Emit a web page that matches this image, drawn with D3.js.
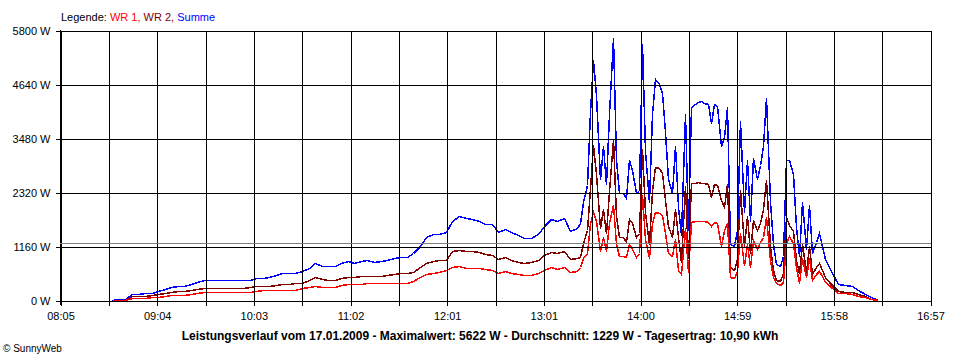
<!DOCTYPE html>
<html><head><meta charset="utf-8">
<script src="https://cdn.jsdelivr.net/npm/d3@7"></script>
<style>body{margin:0;background:#fff}svg{display:block}</style>
</head><body>
<svg id="chart" width="960" height="360"></svg>
<script>
// ---------- DATA ----------
const times = [
 "08:37","08:41","08:45","08:49","08:53","08:57",
 "09:01","09:05","09:09","09:13","09:17","09:21","09:25","09:29","09:33","09:37","09:41","09:45","09:49","09:53","09:57",
 "10:01","10:05","10:09","10:13","10:17","10:21","10:25","10:29","10:33","10:37","10:41","10:45","10:49","10:53","10:57",
 "11:01","11:05","11:09","11:13","11:17","11:21","11:25","11:29","11:33","11:37","11:41","11:45","11:49","11:53","11:57",
 "12:01","12:05","12:09","12:13","12:17","12:21","12:25","12:29","12:33","12:37","12:41","12:45","12:49","12:53","12:57",
 "13:01","13:05","13:09","13:13","13:17","13:21",
 "13:23","13:25","13:27","13:29","13:31","13:33","13:35","13:37","13:39","13:41","13:43","13:45","13:47","13:49","13:51","13:53","13:55","13:57","13:59",
 "14:01","14:03","14:05","14:07","14:09","14:11","14:13","14:15","14:17","14:19","14:21","14:23","14:25","14:27","14:29",
 "14:31","14:33","14:35","14:37","14:39","14:41","14:43","14:45","14:47","14:49","14:51","14:53","14:55","14:57","14:59",
 "15:01","15:03","15:05","15:07","15:09","15:11","15:13","15:15","15:17","15:19","15:21","15:23","15:25","15:27","15:29",
 "15:31","15:33","15:35","15:37","15:39","15:41","15:43","15:45","15:47","15:49","15:51","15:53","15:55","15:57",
 "16:01","16:05","16:09","16:13","16:17","16:21","16:25"
];
const summe = [
 0,15,15,128,130,140,
 160,190,240,275,295,310,345,380,420,425,420,428,430,425,435,
 430,465,475,485,540,585,570,590,620,680,800,720,740,740,800,
 845,800,830,865,810,830,860,905,915,925,1000,1160,1360,1418,1425,
 1460,1690,1800,1760,1733,1700,1640,1626,1460,1520,1460,1390,1340,1340,1420,
 1600,1750,1690,1760,1490,1540,
 1650,2100,2470,4045,5155,4400,2600,3300,2500,4000,5622,3000,2300,2300,2200,3000,2800,2290,2350,
 5500,3200,2100,4000,4750,4650,4450,3600,2600,2300,3300,2000,1400,4000,1500,
 4150,4200,4260,4280,4230,4200,3800,4200,4170,3300,3500,4150,1200,1150,1500,
 3850,1900,3000,1700,3050,2600,2900,3300,4340,2100,1200,770,730,950,3000,
 3000,2700,1575,950,2100,1100,2050,1000,1250,1430,1150,880,716,570,
 340,320,300,215,130,60,0
];
const wr2 = [
 0,0,0,86,88,92,
 100,120,160,178,190,200,215,230,262,265,265,265,268,265,268,
 270,300,300,305,330,340,345,360,375,425,487,445,440,440,480,
 500,490,505,515,510,515,530,560,573,573,609,716,790,840,850,
 870,1050,1080,1055,1045,1024,990,960,880,930,860,820,802,810,860,
 960,1040,1010,1060,880,900,
 930,1217,1500,2400,3330,2700,1550,1950,1450,2350,3450,1800,1350,1350,1250,1750,1650,1360,1450,
 3250,1900,1200,2350,2864,2830,2720,2150,1600,1350,1950,1350,820,2450,900,
 2506,2520,2530,2520,2510,2500,2220,2500,2480,2150,2000,2500,700,644,880,
 2363,1150,1800,1000,1718,1500,1650,1950,2578,1160,644,430,410,573,1780,
 1620,1480,860,573,1200,600,1150,560,700,800,640,500,394,320,
 195,175,170,130,85,30,0
];
const wr1 = [
 0,0,0,42,45,50,
 55,70,90,100,108,112,135,155,168,172,172,172,172,172,175,
 178,200,205,210,215,215,215,218,250,270,308,290,286,290,320,
 337,335,350,358,355,358,358,360,365,375,410,501,550,580,600,
 644,700,725,690,680,680,665,650,590,623,590,560,537,537,570,
 640,700,670,710,595,620,
 716,900,1000,1650,1900,1700,1050,1350,1050,1650,2050,1200,950,950,930,1200,1100,930,1000,
 2250,1300,900,1650,1897,1870,1820,1450,1000,950,1300,650,560,1550,600,
 1682,1690,1700,1700,1690,1680,1600,1670,1660,1150,1500,1650,500,465,620,
 1432,750,1200,700,1289,1100,1250,1350,1790,860,501,358,330,394,1220,
 1380,1220,716,358,900,500,900,440,550,630,510,380,322,250,
 150,140,130,95,60,20,0
];
const yTicks = [0, 1160, 2320, 3480, 4640, 5800];
const xStart = "08:05", xEnd = "16:57";
const xTickLabels = ["08:05","09:04","10:03","11:02","12:01","13:01","14:00","14:59","15:58","16:57"];
const average = 1229;
const legendTitle = "Legende: ";
const seriesNames = ["WR 1", "WR 2", "Summe"];
const seriesColors = ["#ff0000", "#800000", "#0000ff"];
const caption = "Leistungsverlauf vom 17.01.2009 - Maximalwert: 5622 W - Durchschnitt: 1229 W - Tagesertrag: 10,90 kWh";
const copyright = "\u00A9 SunnyWeb";

// ---------- CHART ----------
const svg = d3.select("#chart");
const parse = d3.timeParse("%H:%M");
const L = 60, R = 930, T = 30, B = 300;
const font = "'Liberation Sans', Arial, sans-serif";

const x = d3.scaleTime().domain([parse(xStart), parse(xEnd)]).range([L, R]);
const y = d3.scaleLinear().domain([0, 5800]).range([B, T]);

const t0 = x.domain()[0].getTime(), t1 = x.domain()[1].getTime();
const gridTimes = d3.range(19).map(i => new Date(t0 + i * (t1 - t0) / 18));

// data lines
const seriesData = [wr1, wr2, summe];
const drawOrder = [2, 1, 0];
const line = d3.line()
  .x(d => Math.round(x(d.t)) + 0.5).y(d => Math.round(y(d.v)) + 0.5);
const plot = svg.append("g");
drawOrder.forEach(si => {
  const pts = times.map((t, i) => ({t: parse(t), v: seriesData[si][i]}));
  plot.append("path").datum(pts)
    .attr("d", line)
    .attr("fill", "none")
    .attr("stroke", seriesColors[si])
    .attr("stroke-width", 1.5)
    .attr("shape-rendering", "crispEdges");
});

// grid (drawn on top)
const gx = svg.append("g").attr("transform", `translate(0.5,${B + 0.5})`)
  .call(d3.axisBottom(x).tickValues(gridTimes).tickSizeInner(-(B - T)).tickSizeOuter(0).tickFormat(""));
gx.select(".domain").remove();
gx.selectAll(".tick line").attr("stroke", "#000").attr("shape-rendering", "crispEdges");

const gy = svg.append("g").attr("transform", `translate(${L + 0.5},0.5)`)
  .call(d3.axisLeft(y).tickValues(yTicks).tickSizeInner(-(R - L)).tickSizeOuter(0).tickFormat(""));
gy.select(".domain").remove();
gy.selectAll(".tick line").attr("stroke", "#000").attr("shape-rendering", "crispEdges");

// left axis line
svg.append("line").attr("x1", L + 0.5).attr("x2", L + 0.5).attr("y1", T).attr("y2", B + 5)
  .attr("stroke", "#000").attr("shape-rendering", "crispEdges");

// tick marks + labels
const ax = svg.append("g").attr("transform", `translate(0.5,${B + 0.5})`)
  .call(d3.axisBottom(x).tickValues(gridTimes).tickSizeInner(5).tickSizeOuter(0).tickPadding(7)
    .tickFormat((d, i) => i % 2 === 0 ? xTickLabels[i / 2] : ""));
ax.select(".domain").remove();
ax.selectAll(".tick line").attr("stroke", "#000").attr("shape-rendering", "crispEdges");
ax.selectAll("text").attr("font-family", font).attr("font-size", 11).attr("fill", "#000");

const ay = svg.append("g").attr("transform", `translate(${L + 0.5},0.5)`)
  .call(d3.axisLeft(y).tickValues(yTicks).tickSizeInner(5).tickSizeOuter(0).tickPadding(5)
    .tickFormat(d => d + " W"));
ay.select(".domain").remove();
ay.selectAll(".tick line").attr("stroke", "#000").attr("shape-rendering", "crispEdges");
ay.selectAll("text").attr("font-family", font).attr("font-size", 11).attr("fill", "#000");

// average line
svg.append("line")
  .attr("x1", L).attr("x2", R + 1)
  .attr("y1", Math.round(y(average)) + 0.5).attr("y2", Math.round(y(average)) + 0.5)
  .attr("stroke", "#808080").attr("shape-rendering", "crispEdges");

// legend
const lg = svg.append("text").attr("x", 61).attr("y", 20.5)
  .attr("font-family", font).attr("font-size", 11);
lg.append("tspan").attr("fill", "#000").text(legendTitle);
seriesNames.forEach((n, i) => {
  lg.append("tspan").attr("fill", seriesColors[i]).text(n + (i < seriesNames.length - 1 ? ", " : ""));
});

// caption
svg.append("text").attr("x", 480).attr("y", 340).attr("text-anchor", "middle")
  .attr("font-family", font).attr("font-size", 12).attr("font-weight", "bold").attr("fill", "#000")
  .text(caption);

svg.append("text").attr("x", 3).attr("y", 352)
  .attr("font-family", font).attr("font-size", 10).attr("fill", "#000")
  .text(copyright);
</script>
</body></html>
